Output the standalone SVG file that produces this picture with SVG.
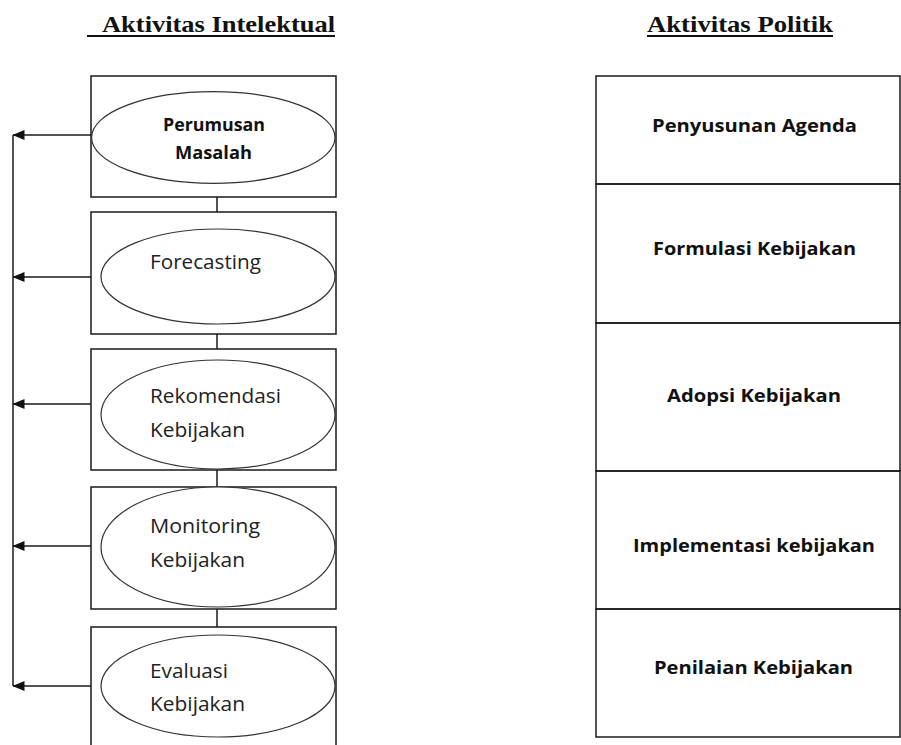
<svg xmlns="http://www.w3.org/2000/svg" width="901" height="745" viewBox="0 0 901 745">
<style>
.box{fill:none;stroke:#1a1a1a;stroke-width:1.5}
.ell{fill:#fff;stroke:#333;stroke-width:1.2}
.ln{stroke:#1a1a1a;stroke-width:1.5;fill:none}
.title{font-family:"Liberation Serif",serif;font-weight:bold;font-size:24px;fill:#111}
.lbl{font-family:"Open Sans","Noto Sans",sans-serif;font-size:20px;fill:#222}
.blbl{font-family:"Open Sans","Noto Sans",sans-serif;font-weight:bold;font-size:18.5px;fill:#111}
.sblbl{font-family:"Open Sans","Noto Sans",sans-serif;font-weight:bold;font-size:17.5px;fill:#111}
</style>
<defs>
<marker id="ah" viewBox="0 0 12 10" refX="11.5" refY="5" markerWidth="12" markerHeight="10" markerUnits="userSpaceOnUse" orient="auto">
<path d="M12,5 L0,0 L0,10 Z" fill="#111"/>
</marker>
</defs>
<rect width="901" height="745" fill="#fff"/>
<g id="titles">
<text class="title" x="102" y="32" textLength="233" lengthAdjust="spacingAndGlyphs">Aktivitas Intelektual</text>
<line x1="87" y1="36" x2="335" y2="36" stroke="#111" stroke-width="1.8"/>
<text class="title" x="647" y="32" textLength="186" lengthAdjust="spacingAndGlyphs">Aktivitas Politik</text>
<line x1="647" y1="36" x2="833" y2="36" stroke="#111" stroke-width="1.8"/>
</g>
<g id="connectors">
<line class="ln" x1="217" y1="197" x2="217" y2="212"/>
<line class="ln" x1="217" y1="334" x2="217" y2="349"/>
<line class="ln" x1="217" y1="470" x2="217" y2="487"/>
<line class="ln" x1="217" y1="609" x2="217" y2="627"/>
<line class="ln" x1="13" y1="135" x2="13" y2="686"/>
<line class="ln" x1="92" y1="135" x2="13" y2="135" marker-end="url(#ah)"/>
<line class="ln" x1="91" y1="277" x2="13" y2="277" marker-end="url(#ah)"/>
<line class="ln" x1="91" y1="404" x2="13" y2="404" marker-end="url(#ah)"/>
<line class="ln" x1="91" y1="546" x2="13" y2="546" marker-end="url(#ah)"/>
<line class="ln" x1="91" y1="686" x2="13" y2="686" marker-end="url(#ah)"/>
</g>
<g id="perumusan">
<rect class="box" x="91" y="76" width="245" height="121"/>
<ellipse class="ell" cx="213.3" cy="137.5" rx="121.7" ry="45.8"/>
<text class="sblbl" x="163" y="131" textLength="102" lengthAdjust="spacingAndGlyphs">Perumusan</text>
<text class="sblbl" x="175" y="159" textLength="77" lengthAdjust="spacingAndGlyphs">Masalah</text>
</g>
<g id="forecasting">
<rect class="box" x="91" y="212" width="245" height="122"/>
<ellipse class="ell" cx="218" cy="276.5" rx="117" ry="47.5"/>
<text class="lbl" x="150" y="268.5" textLength="111" lengthAdjust="spacingAndGlyphs">Forecasting</text>
</g>
<g id="rekomendasi">
<rect class="box" x="91" y="349" width="245" height="121"/>
<ellipse class="ell" cx="218" cy="414.5" rx="117" ry="54.5"/>
<text class="lbl" x="150" y="402.5" textLength="131" lengthAdjust="spacingAndGlyphs">Rekomendasi</text>
<text class="lbl" x="150" y="437" textLength="95" lengthAdjust="spacingAndGlyphs">Kebijakan</text>
</g>
<g id="monitoring">
<rect class="box" x="91" y="487" width="245" height="122"/>
<ellipse class="ell" cx="218" cy="547" rx="117" ry="60"/>
<text class="lbl" x="150" y="533" textLength="110" lengthAdjust="spacingAndGlyphs">Monitoring</text>
<text class="lbl" x="150" y="567" textLength="95" lengthAdjust="spacingAndGlyphs">Kebijakan</text>
</g>
<g id="evaluasi">
<rect class="box" x="91" y="627" width="245" height="140"/>
<ellipse class="ell" cx="218" cy="686" rx="117" ry="51"/>
<text class="lbl" x="150" y="678" textLength="78" lengthAdjust="spacingAndGlyphs">Evaluasi</text>
<text class="lbl" x="150" y="711" textLength="95" lengthAdjust="spacingAndGlyphs">Kebijakan</text>
</g>
<g id="penyusunan">
<rect class="box" x="596" y="76" width="304" height="108"/>
<text class="blbl" x="652" y="132" textLength="205" lengthAdjust="spacingAndGlyphs">Penyusunan Agenda</text>
</g>
<g id="formulasi">
<rect class="box" x="596" y="184" width="304" height="139"/>
<text class="blbl" x="653" y="255" textLength="203" lengthAdjust="spacingAndGlyphs">Formulasi Kebijakan</text>
</g>
<g id="adopsi">
<rect class="box" x="596" y="323" width="304" height="148"/>
<text class="blbl" x="667" y="402" textLength="174" lengthAdjust="spacingAndGlyphs">Adopsi Kebijakan</text>
</g>
<g id="implementasi">
<rect class="box" x="596" y="471" width="304" height="138"/>
<text class="blbl" x="633" y="552" textLength="242" lengthAdjust="spacingAndGlyphs">Implementasi kebijakan</text>
</g>
<g id="penilaian">
<rect class="box" x="596" y="609" width="304" height="128"/>
<text class="blbl" x="654" y="674" textLength="199" lengthAdjust="spacingAndGlyphs">Penilaian Kebijakan</text>
</g>
</svg>
